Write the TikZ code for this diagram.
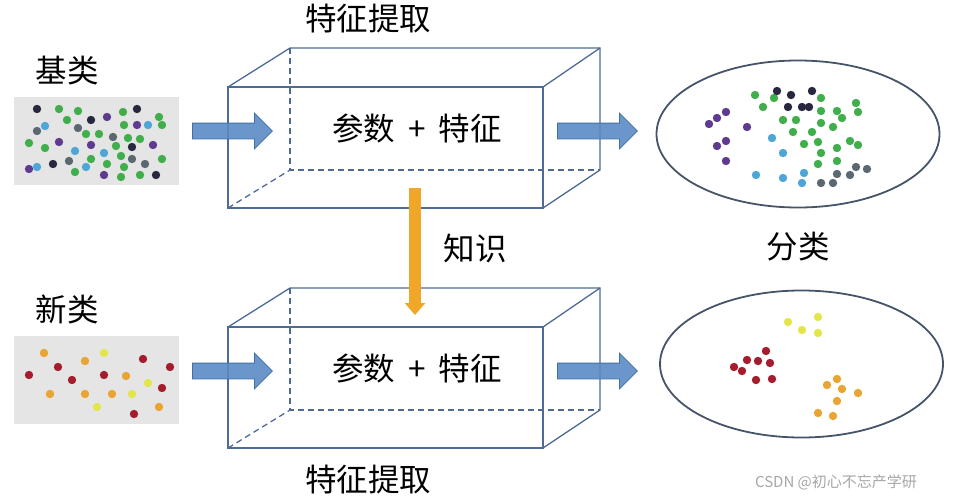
\documentclass[tikz,border=0pt]{standalone}
\usepackage{fontspec}
\newfontfamily\cjk{Noto Sans CJK SC}
\usetikzlibrary{arrows.meta,shapes.geometric,shapes.arrows}
\definecolor{edgecol}{HTML}{4E6B95}
\definecolor{ovalcol}{HTML}{46546A}
\definecolor{arrfill}{HTML}{5B8BC7}
\definecolor{arrline}{HTML}{41709F}
\definecolor{knowcol}{HTML}{F0A626}
\definecolor{padcol}{HTML}{E5E5E5}
\definecolor{gr}{HTML}{3FAE4B}
\definecolor{dk}{HTML}{27283F}
\definecolor{pu}{HTML}{5E3B8E}
\definecolor{bl}{HTML}{4DA6D6}
\definecolor{sl}{HTML}{5B6871}
\definecolor{rd}{HTML}{A31D2E}
\definecolor{og}{HTML}{E9A431}
\definecolor{ye}{HTML}{E3E64B}

\begin{document}
\begin{tikzpicture}[
  x=1pt, y=-1pt,
  lbl/.style={font=\cjk\fontsize{31.5}{36}\selectfont, inner sep=0pt},
  padnode/.style={fill=padcol, minimum width=165pt, minimum height=88pt, inner sep=0pt},
  ovalnode/.style={draw=ovalcol, line width=1.8pt, ellipse, minimum width=283pt,
                   minimum height=147pt, inner sep=0pt},
  barrow/.style={single arrow, draw=arrline, fill=arrfill, fill opacity=0.9, line width=0.8pt,
                 minimum height=80pt, single arrow head extend=10pt,
                 inner xsep=0pt, inner ysep=7.5pt, anchor=tail},
  edge/.style={draw=edgecol, line width=1.3pt},
  hidden/.style={edge, dash pattern=on 6pt off 4pt},
  knowarr/.style={draw=knowcol, line width=12pt, -{Triangle[length=12pt,width=20pt]}},
]
\useasboundingbox (0,0) rectangle (957,500);

% point sets
\node[padnode] (baseset) at (96.5,141) {};
\node[padnode] (novelset) at (96.5,379.5) {};
\node[lbl] (basetxt) at (67,71) {基类};
\node[lbl] (noveltxt) at (67,309) {新类};

% feature extractors (two boxes)
\foreach \y in {87,327}{
  \draw[hidden] (290,\y-39) -- (290,\y+83) -- (600,\y+83);
  \draw[hidden] (228,\y+121) -- (290,\y+83);
  \draw[edge] (228,\y) rectangle (543,\y+121);
  \draw[edge] (228,\y) -- (290,\y-39) -- (600,\y-39) -- (600,\y+83) -- (543,\y+121);
  \draw[edge] (543,\y) -- (600,\y-39);
}
\node[lbl] (topbox) at (417,128) {参数\hspace{13pt}+\hspace{13pt}特征};
\node[lbl] (lowbox) at (417,368) {参数\hspace{13pt}+\hspace{13pt}特征};
\node[lbl] (toptitle) at (368,19) {特征提取};
\node[lbl] (lowtitle) at (368,480) {特征提取};

% block arrows in and out
\node[barrow] (inA)  at (192,131) {};
\node[barrow] (outA) at (557,131) {};
\node[barrow] (inB)  at (192,371) {};
\node[barrow] (outB) at (557,371) {};

% knowledge transfer
\coordinate (kA) at (415,188);
\coordinate (kB) at (415,315);
\draw[knowarr] (kA) -- (kB);
\node[lbl] (knowtxt) at (475,248) {知识};

% classification results
\node[ovalnode] (baseoval) at (798,134) {};
\node[ovalnode] (noveloval) at (801.5,364) {};
\node[lbl] (clstxt) at (798,247) {分类};

\foreach \x/\y/\c in {
  37/109/dk, 137/109/dk, 91/120/dk, 132/147/dk, 53/164/dk, 156/175/dk,
  59/109/gr, 78/111/gr, 123/112/gr, 159/117/gr, 67/120/gr, 124/125/gr, 162/125/gr,
  86/134/gr, 99/134/gr, 128/138/gr, 140/139/gr, 29/143/gr, 116/146/gr, 45/148/gr,
  121/156/gr, 91/159/gr, 162/159/gr, 107/164/gr, 124/167/gr, 75/172/gr, 121/177/gr, 140/175/gr,
  107/117/pu, 137/125/pu, 59/142/pu, 91/145/pu, 153/145/pu, 29/169/pu, 104/175/pu,
  45/126/bl, 148/125/bl, 75/151/bl, 104/153/bl, 86/167/bl, 37/167/bl,
  37/131/sl, 78/128/sl, 113/137/sl, 69/161/sl, 132/159/sl, 145/164/sl,
  755/95/gr, 774/98/gr, 821/98/gr, 763/107/gr, 856/103/gr, 858/112/gr, 821/111/gr,
  837/111/gr, 842/118/gr, 783/120/gr, 796/120/gr, 821/123/gr, 833/127/gr, 793/132/gr,
  812/132/gr, 804/144/gr, 818/142/gr, 850/141/gr, 858/145/gr, 837/148/gr, 821/153/gr,
  818/164/gr, 837/161/gr,
  777/91/dk, 791/95/dk, 812/91/dk, 788/107/dk, 802/107/dk, 809/107/dk,
  726/112/pu, 717/118/pu, 709/124/pu, 747/127/pu, 726/141/pu, 717/146/pu, 726/161/pu,
  772/138/bl, 783/153/bl, 756/175/bl, 783/178/bl, 804/173/bl, 802/183/bl,
  856/167/sl, 867/169/sl, 837/174/sl, 850/175/sl, 821/183/sl, 833/183/sl,
  44/353/og, 85/361/og, 126/376/og, 50/394/og, 85/394/og, 112/394/og, 159/407/og,
  104/353/ye, 148/383/ye, 132/394/ye, 97/407/ye,
  143/359/rd, 58/367/rd, 170/367/rd, 29/375/rd, 104/375/rd, 72/380/rd, 162/388/rd, 134/414/rd,
  788/322/ye, 818/317/ye, 802/330/ye, 818/333/ye,
  766/351/rd, 747/360/rd, 758/361/rd, 770/363/rd, 734/367/rd, 742/371/rd, 756/380/rd, 772/379/rd,
  837/379/og, 827/385/og, 842/389/og, 858/393/og, 837/401/og, 818/413/og, 833/416/og}{
  \fill[\c] (\x,\y) circle[radius=4.2pt];
}

\node[font=\cjk\fontsize{15}{18}\selectfont, text=black!35, inner sep=0pt] (mark) at (836,482)
  {CSDN @初心不忘产学研};

\end{tikzpicture}
\end{document}
